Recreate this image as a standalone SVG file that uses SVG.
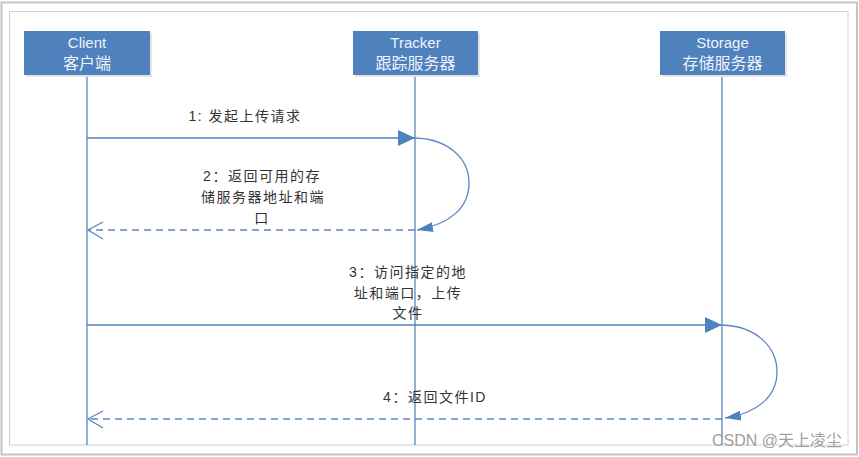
<svg xmlns="http://www.w3.org/2000/svg" width="859" height="457" viewBox="0 0 859 457">
<style>
.box{fill:#4f81bd;}
.shadow{fill:#e4e4e4;}
.bt{font-family:"Liberation Sans","Noto Sans CJK SC",sans-serif;font-size:15px;fill:#eef3fa;text-anchor:middle;}
.bc{font-size:16px;}
.lt{font-family:"Liberation Sans","Noto Sans CJK SC",sans-serif;font-size:14px;fill:#333;text-anchor:middle;letter-spacing:1.5px;}
.life{stroke:#5b86c2;stroke-width:1.3;fill:none;}
.msg{stroke:#4f81bd;stroke-width:1.3;fill:none;}
.ret{stroke:#5b86c2;stroke-width:1.3;fill:none;stroke-dasharray:7 5;}
.loop{stroke:#5b86c2;stroke-width:1.3;fill:none;}
.open{stroke:#5b86c2;stroke-width:1.3;fill:none;}
</style>
<defs>
<marker id="filled" viewBox="0 0 17 16" refX="17" refY="8" markerWidth="17" markerHeight="16" markerUnits="userSpaceOnUse" orient="auto">
<path d="M0,0 L17,8 L0,16 Z" fill="#4f81bd"/>
</marker>
<marker id="small" viewBox="0 0 16 10" refX="16" refY="5" markerWidth="16" markerHeight="10" markerUnits="userSpaceOnUse" orient="auto">
<path d="M0,0 L16,5 L0,10 Z" fill="#4f81bd"/>
</marker>
</defs>
<rect x="0" y="0" width="859" height="457" fill="#ffffff"/>
<rect x="1.5" y="2.5" width="855.5" height="452" fill="#ffffff" stroke="#c4c4c4" stroke-width="2"/>
<rect x="9.5" y="11.5" width="838.5" height="433.5" fill="#ffffff" stroke="#d0d0d0" stroke-width="1"/>
<g id="connectors">
<line class="life" x1="87" y1="75" x2="87" y2="445"/>
<line class="life" x1="415" y1="75" x2="415" y2="445"/>
<line class="life" x1="722" y1="75" x2="722" y2="445"/>
<line class="msg" x1="87" y1="138" x2="415" y2="138" marker-end="url(#filled)"/>
<path class="loop" d="M415,138 C448,139 469,158 469,183 C469,208 450,224 417,230" marker-end="url(#small)"/>
<line class="ret" x1="415" y1="230" x2="88" y2="230"/>
<path class="open" d="M103,222 L88,230 L103,239"/>
<line class="msg" x1="87" y1="325" x2="722" y2="325" marker-end="url(#filled)"/>
<path class="loop" d="M722,325 C755,326 777,346 777,372 C777,396 758,413 725,418" marker-end="url(#small)"/>
<line class="ret" x1="722" y1="419" x2="88" y2="419"/>
<path class="open" d="M103,411 L88,419 L103,428"/>
<text class="lt" x="245" y="121">1:  发起上传请求</text>
<text class="lt" x="262" y="181">2：返回可用的存</text>
<text class="lt" x="263" y="202">储服务器地址和端</text>
<text class="lt" x="262" y="223">口</text>
<text class="lt" x="408" y="277">3：访问指定的地</text>
<text class="lt" x="408" y="298">址和端口，上传</text>
<text class="lt" x="408" y="318">文件</text>
<text class="lt" x="435" y="402">4：返回文件ID</text>
</g>
<g id="client">
<rect class="shadow" x="26" y="33" width="126" height="44"/>
<rect class="box" x="24" y="31" width="126" height="44"/>
<text class="bt" x="87" y="48">Client</text>
<text class="bt bc" x="87" y="69">客户端</text>
</g>
<g id="tracker">
<rect class="shadow" x="355" y="33" width="125" height="44"/>
<rect class="box" x="353" y="31" width="125" height="44"/>
<text class="bt" x="415.5" y="48">Tracker</text>
<text class="bt bc" x="415.5" y="69">跟踪服务器</text>
</g>
<g id="storage">
<rect class="shadow" x="662" y="33" width="125" height="44"/>
<rect class="box" x="660" y="31" width="125" height="44"/>
<text class="bt" x="722.5" y="48">Storage</text>
<text class="bt bc" x="722.5" y="69">存储服务器</text>
</g>
<text x="842" y="446" font-family="Liberation Sans,'Noto Sans CJK SC',sans-serif" font-size="16" fill="#a0a0a0" text-anchor="end">CSDN @天上凌尘</text>
</svg>
